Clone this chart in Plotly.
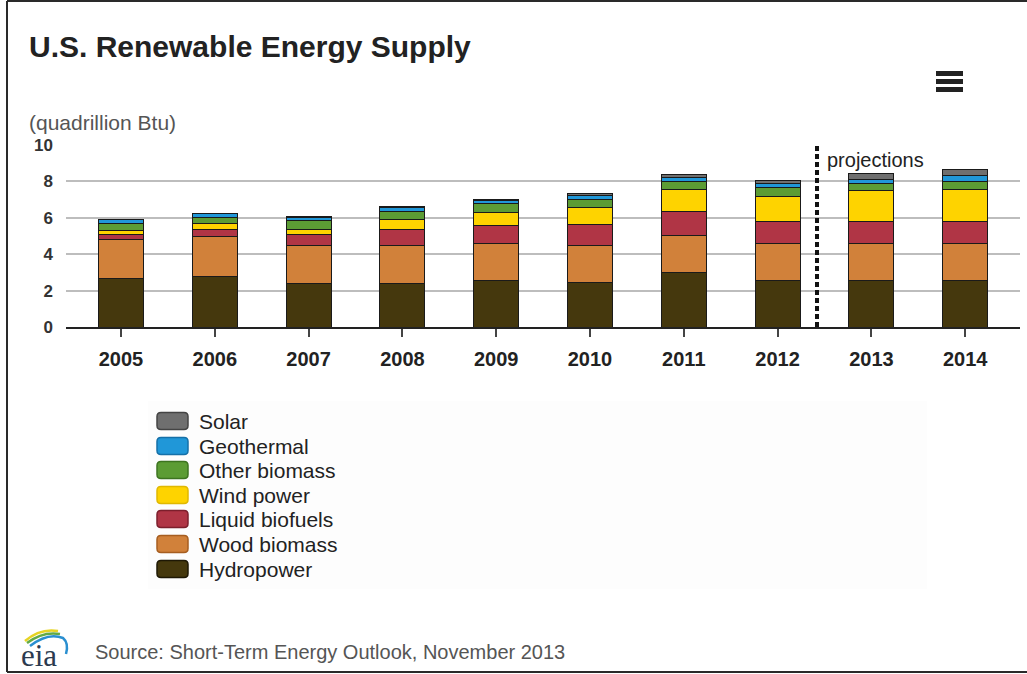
import plotly.graph_objects as go

# ---------------- data ----------------
years = ["2005", "2006", "2007", "2008", "2009", "2010", "2011", "2012", "2013", "2014"]
hydropower = [2.69, 2.75, 2.38, 2.38, 2.56, 2.45, 3.00, 2.56, 2.56, 2.56]
wood_biomass = [2.11, 2.20, 2.12, 2.12, 2.02, 2.05, 2.02, 2.02, 2.02, 2.02]
liquid_biofuels = [0.31, 0.43, 0.57, 0.88, 0.99, 1.14, 1.33, 1.22, 1.22, 1.22]
wind_power = [0.20, 0.30, 0.31, 0.55, 0.73, 0.93, 1.19, 1.38, 1.69, 1.74]
other_biomass = [0.37, 0.31, 0.48, 0.42, 0.46, 0.46, 0.46, 0.46, 0.42, 0.46]
geothermal = [0.22, 0.24, 0.18, 0.24, 0.20, 0.22, 0.24, 0.24, 0.22, 0.31]
solar = [0.03, 0.03, 0.04, 0.04, 0.03, 0.11, 0.13, 0.18, 0.33, 0.33]

series_names = ["Hydropower", "Wood biomass", "Liquid biofuels", "Wind power",
                "Other biomass", "Geothermal", "Solar"]
series_values = [hydropower, wood_biomass, liquid_biofuels, wind_power,
                 other_biomass, geothermal, solar]
series_colors = ["#45380d", "#d1813a", "#b03545", "#fed300", "#5c9c34", "#2097d8", "#6f6f6f"]
swatch_borders = ["#1e1805", "#a65e20", "#7c1f2c", "#e0b800", "#3d7420", "#1570a8", "#444444"]

projection_start = 7.42   # between 2012 and 2013

# ---------------- layout geometry ----------------
W, H = 1027, 674
L, R, T, B = 66, 7, 145, 347
PW, PH = W - L - R, H - T - B


def px(x):
    return (x - L) / PW


def py(y):
    return (H - B - y) / PH


fig = go.Figure()
for name, vals, col in zip(series_names, series_values, series_colors):
    fig.add_trace(go.Bar(
        x=years, y=vals, name=name, width=0.48,
        marker=dict(color=col, line=dict(color="#1a1a1a", width=1)),
        showlegend=False,
    ))

shapes = []
annotations = []

# projection divider
shapes.append(dict(type="line", xref="x", yref="y", x0=projection_start, x1=projection_start,
                   y0=0, y1=10, line=dict(color="#111111", width=4, dash="5px,3px")))
annotations.append(dict(xref="x", yref="y", x=projection_start + 0.08, y=9.2, text="projections",
                        showarrow=False, xanchor="left", yanchor="middle",
                        font=dict(family="Arial", size=20, color="#222222")))

# outer border (left, top, bottom)
for x0, y0, x1, y1 in [(7, 1, 7, 672), (7, 1, 1027, 1), (7, 672, 1027, 672)]:
    shapes.append(dict(type="line", xref="paper", yref="paper", x0=px(x0), x1=px(x1), y0=py(y0), y1=py(y1),
                       line=dict(color="#2a2a2a", width=2), layer="below"))

# legend background (very faint)
shapes.append(dict(type="rect", xref="paper", yref="paper", x0=px(148), x1=px(927), y0=py(589), y1=py(401),
                   line=dict(width=0), fillcolor="#fdfdfd", layer="below"))

# manual legend (top to bottom: Solar ... Hydropower)
row_y = [421, 446, 470, 495, 519, 544, 569]
for i, idx in enumerate(range(len(series_names) - 1, -1, -1)):
    yc = row_y[i]
    x0, x1, y0, y1 = 157, 188, yc - 8.5, yc + 8.5
    r = 4
    path = (f"M {px(x0 + r)},{py(y0)} L {px(x1 - r)},{py(y0)} Q {px(x1)},{py(y0)} {px(x1)},{py(y0 + r)} "
            f"L {px(x1)},{py(y1 - r)} Q {px(x1)},{py(y1)} {px(x1 - r)},{py(y1)} "
            f"L {px(x0 + r)},{py(y1)} Q {px(x0)},{py(y1)} {px(x0)},{py(y1 - r)} "
            f"L {px(x0)},{py(y0 + r)} Q {px(x0)},{py(y0)} {px(x0 + r)},{py(y0)} Z")
    shapes.append(dict(type="path", xref="paper", yref="paper", path=path,
                       fillcolor=series_colors[idx], line=dict(color=swatch_borders[idx], width=1.5)))
    annotations.append(dict(xref="paper", yref="paper", x=px(197), y=py(yc), text=series_names[idx],
                            showarrow=False, xanchor="left", yanchor="middle",
                            font=dict(family="Arial", size=21, color="#222222")))

# hamburger menu icon
for yy in [(71, 76), (79, 84), (87, 92)]:
    shapes.append(dict(type="rect", xref="paper", yref="paper", x0=px(936), x1=px(963),
                       y0=py(yy[1]), y1=py(yy[0]), fillcolor="#222222", line=dict(width=0)))


# eia logo arcs
def qpath(pts):
    (a, b), (c, d), (e, f) = pts
    return f"M {px(a)},{py(b)} Q {px(c)},{py(d)} {px(e)},{py(f)}"


shapes.append(dict(type="path", xref="paper", yref="paper", path=qpath([(25, 641), (40, 628), (58, 631)]),
                   line=dict(color="#e6d424", width=2.5)))
shapes.append(dict(type="path", xref="paper", yref="paper", path=qpath([(27, 643), (43, 631), (60, 634)]),
                   line=dict(color="#63aa45", width=2.5)))
shapes.append(dict(type="path", xref="paper", yref="paper",
                   path=qpath([(30, 646), (48, 632), (63, 638)]) + f" Q {px(69)},{py(643)} {px(66)},{py(654)}",
                   line=dict(color="#2a8fd0", width=2.5)))

annotations.append(dict(xref="paper", yref="paper", x=px(19), y=py(655), text="eia", showarrow=False,
                        xanchor="left", yanchor="middle",
                        font=dict(family="Liberation Serif", size=31, color="#2b3a4f")))
annotations.append(dict(xref="paper", yref="paper", x=px(93), y=py(652),
                        text="Source: Short-Term Energy Outlook, November 2013", showarrow=False,
                        xanchor="left", yanchor="middle",
                        font=dict(family="Arial", size=20, color="#555555")))

# title and unit label
annotations.append(dict(xref="paper", yref="paper", x=px(27), y=py(47), text="<b>U.S. Renewable Energy Supply</b>",
                        showarrow=False, xanchor="left", yanchor="middle",
                        font=dict(family="Arial", size=30, color="#222222")))
annotations.append(dict(xref="paper", yref="paper", x=px(27), y=py(122), text="(quadrillion Btu)",
                        showarrow=False, xanchor="left", yanchor="middle",
                        font=dict(family="Arial", size=21, color="#555555")))

fig.update_layout(
    width=W, height=H,
    margin=dict(l=L, r=R, t=T, b=B, pad=0),
    paper_bgcolor="white", plot_bgcolor="white",
    barmode="stack",
    showlegend=False,
    shapes=shapes,
    annotations=annotations,
    xaxis=dict(type="category", range=[-0.586, 9.584], showline=True, linecolor="#222222", linewidth=2,
               ticks="outside", ticklen=8, tickwidth=2, tickcolor="#444444", showgrid=False,
               tickfont=dict(family="Arial", size=20, color="#222222"), ticklabelstandoff=5,
               fixedrange=True),
    yaxis=dict(range=[0, 10], dtick=2, showgrid=True, gridcolor="#bdbdbd", gridwidth=2,
               zeroline=False, showline=False, ticks="",
               tickfont=dict(family="Arial", size=17, color="#333333"), ticklabelstandoff=12,
               fixedrange=True),
    font=dict(family="Arial"),
)
fig.update_xaxes(tickprefix="<b>", ticksuffix="</b>")
fig.update_yaxes(tickprefix="<b>", ticksuffix="</b>")

fig.write_html("out.html", config={"displayModeBar": False})
